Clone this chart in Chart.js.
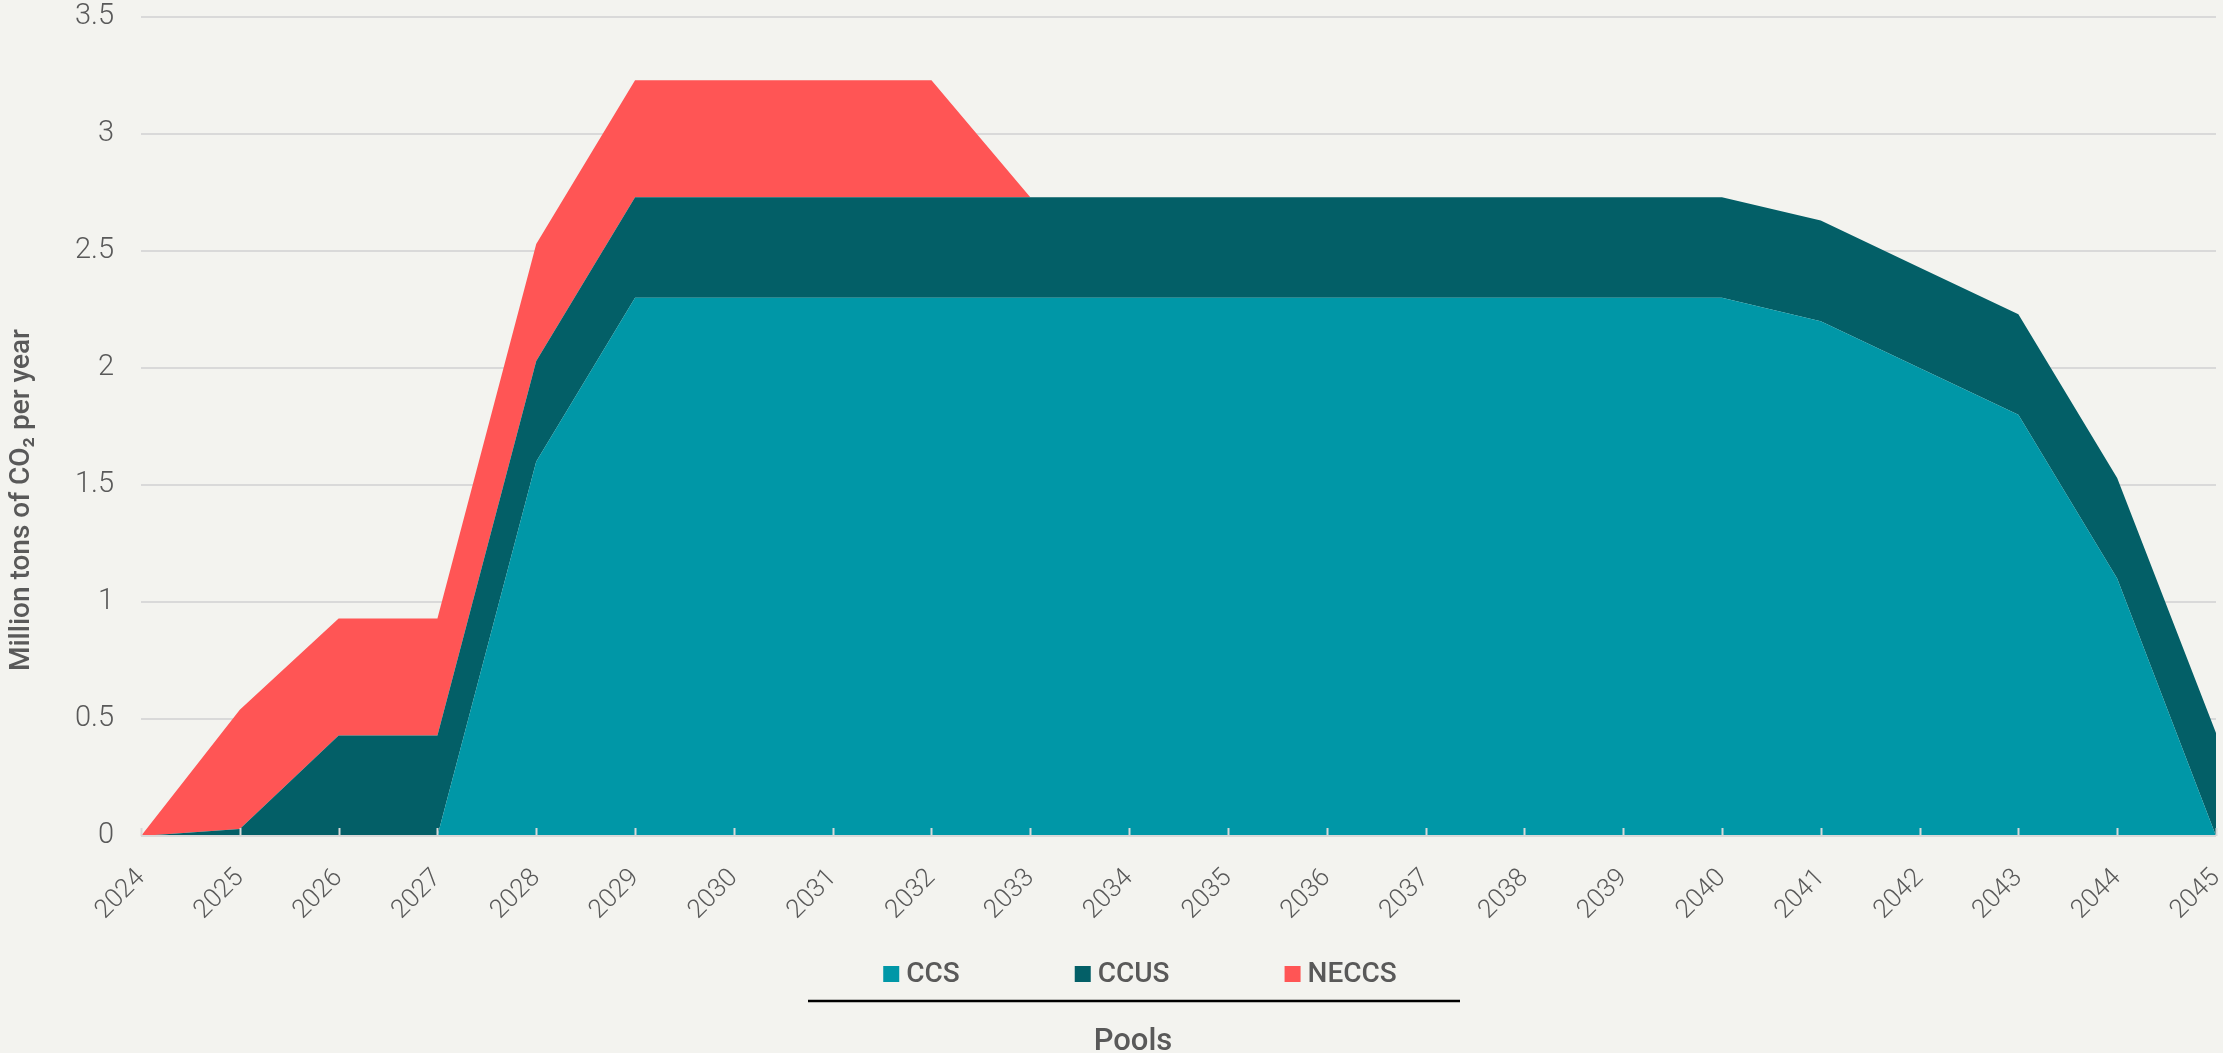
<!DOCTYPE html>
<html>
<head>
<meta charset="utf-8">
<script src="https://cdn.jsdelivr.net/npm/chart.js@4"></script>
<style>
  html, body { margin: 0; padding: 0; background: #F3F3EF; }
  #wrap { width: 2223px; height: 1053px; position: relative; }
  canvas { display: block; }
</style>
</head>
<body>
<div id="wrap"><canvas id="c" width="2223" height="1053"></canvas></div>
<script>
const years = ['2024','2025','2026','2027','2028','2029','2030','2031','2032','2033','2034',
               '2035','2036','2037','2038','2039','2040','2041','2042','2043','2044','2045'];
const ccs   = [0, 0, 0, 0, 1.6, 2.3, 2.3, 2.3, 2.3, 2.3, 2.3, 2.3, 2.3, 2.3, 2.3, 2.3, 2.3, 2.2, 2.0, 1.8, 1.1, 0];
const ccus  = [0, 0.03, 0.43, 0.43, 0.43, 0.43, 0.43, 0.43, 0.43, 0.43, 0.43, 0.43, 0.43, 0.43, 0.43, 0.43, 0.43, 0.43, 0.43, 0.43, 0.43, 0.44];
const neccs = [0, 0.51, 0.5, 0.5, 0.5, 0.5, 0.5, 0.5, 0.5, 0, 0, 0, 0, 0, 0, 0, 0, 0, 0, 0, 0, 0];
const seriesNames = ['CCS', 'CCUS', 'NECCS'];
const yTicks = [0, 0.5, 1, 1.5, 2, 2.5, 3, 3.5];
const yTitle = 'Million tons of CO₂ per year';
const legendTitle = 'Pools';

const colors = ['#0097A7', '#035F67', '#FF5555'];
const textColor = '#595959';
const gridColor = '#D9D9D9';

const bgPlugin = {
  id: 'bg',
  beforeDraw(chart) {
    const ctx = chart.ctx;
    ctx.save();
    ctx.fillStyle = '#F3F3EF';
    ctx.fillRect(0, 0, chart.width, chart.height);
    ctx.restore();
  }
};

const overlayPlugin = {
  id: 'overlay',
  afterDatasetsDraw(chart) {
    const ctx = chart.ctx;
    const xs = chart.scales.x, ys = chart.scales.y;
    const y0 = ys.getPixelForValue(0);
    ctx.save();
    ctx.strokeStyle = gridColor;
    ctx.lineWidth = 2;
    ctx.beginPath();
    ctx.moveTo(chart.chartArea.left, y0);
    ctx.lineTo(chart.chartArea.right, y0);
    ctx.stroke();
    for (let i = 0; i < years.length; i++) {
      const x = Math.round(xs.getPixelForValue(i)) + 0.5;
      ctx.beginPath();
      ctx.moveTo(x, y0);
      ctx.lineTo(x, y0 - 8);
      ctx.stroke();
    }
    ctx.restore();
  },
  afterDraw(chart) {
    const ctx = chart.ctx;
    ctx.save();
    // y-axis title
    ctx.save();
    ctx.translate(22, 500);
    ctx.rotate(-Math.PI / 2);
    ctx.font = '500 28px Roboto';
    ctx.textAlign = 'center';
    ctx.textBaseline = 'middle';
    ctx.fillStyle = textColor;
    ctx.fillText(yTitle, 0, 0);
    ctx.restore();
    // legend
    ctx.font = '500 28px Roboto';
    ctx.textBaseline = 'middle';
    ctx.textAlign = 'left';
    const box = 16, gapText = 7, gapItem = 115;
    const ds = chart.data.datasets;
    let total = 0;
    const widths = ds.map(d => ctx.measureText(d.label).width);
    widths.forEach((w, i) => { total += box + gapText + w + (i < widths.length - 1 ? gapItem : 0); });
    let x = 1140 - total / 2;
    const cy = 974;
    ds.forEach((d, i) => {
      ctx.fillStyle = d.backgroundColor;
      ctx.fillRect(x, cy - box / 2, box, box);
      ctx.fillStyle = textColor;
      ctx.fillText(d.label, x + box + gapText, cy + 1);
      x += box + gapText + widths[i] + gapItem;
    });
    // rule
    ctx.strokeStyle = '#000000';
    ctx.lineWidth = 2.5;
    ctx.beginPath();
    ctx.moveTo(808, 1001);
    ctx.lineTo(1460, 1001);
    ctx.stroke();
    // title
    ctx.font = '500 31px Roboto';
    ctx.textAlign = 'center';
    ctx.textBaseline = 'alphabetic';
    ctx.fillStyle = textColor;
    ctx.fillText(legendTitle, 1133, 1050);
    ctx.restore();
  }
};

new Chart(document.getElementById('c'), {
  type: 'line',
  data: {
    labels: years,
    datasets: [
      { label: seriesNames[0], data: ccs,   backgroundColor: colors[0], borderColor: colors[0], fill: 'origin' },
      { label: seriesNames[1], data: ccus,  backgroundColor: colors[1], borderColor: colors[1], fill: '-1' },
      { label: seriesNames[2], data: neccs, backgroundColor: colors[2], borderColor: colors[2], fill: '-1' }
    ]
  },
  options: {
    responsive: false,
    animation: false,
    devicePixelRatio: 1,
    elements: {
      line: { borderWidth: 0, tension: 0 },
      point: { radius: 0, hoverRadius: 0 }
    },
    layout: { padding: { top: 17, right: 7, left: 0, bottom: 0 } },
    plugins: {
      legend: { display: false },
      tooltip: { enabled: false }
    },
    scales: {
      x: {
        offset: false,
        grid: { display: false, drawTicks: false },
        border: { display: false },
        ticks: {
          color: textColor,
          font: { family: 'Roboto', weight: 300, size: 26 },
          maxRotation: 45, minRotation: 45,
          autoSkip: false,
          padding: 27
        },
        afterFit(scale) {
          scale.height = 1053 - 836;
          scale.paddingLeft = 0; scale.paddingRight = 0;
        }
      },
      y: {
        stacked: true,
        min: 0, max: 3.5,
        afterBuildTicks(scale) { scale.ticks = yTicks.map(v => ({ value: v })); },
        grid: { color: gridColor, lineWidth: 2, drawTicks: false },
        border: { display: false },
        ticks: {
          color: textColor,
          font: { family: 'Roboto', weight: 300, size: 29 },
          padding: 27,
          callback: (v) => String(v)
        },
        title: { display: false },
        afterFit(scale) {
          scale.width = 141;
          scale.paddingTop = 0; scale.paddingBottom = 0;
        }
      }
    }
  },
  plugins: [bgPlugin, overlayPlugin]
});
</script>
</body>
</html>
